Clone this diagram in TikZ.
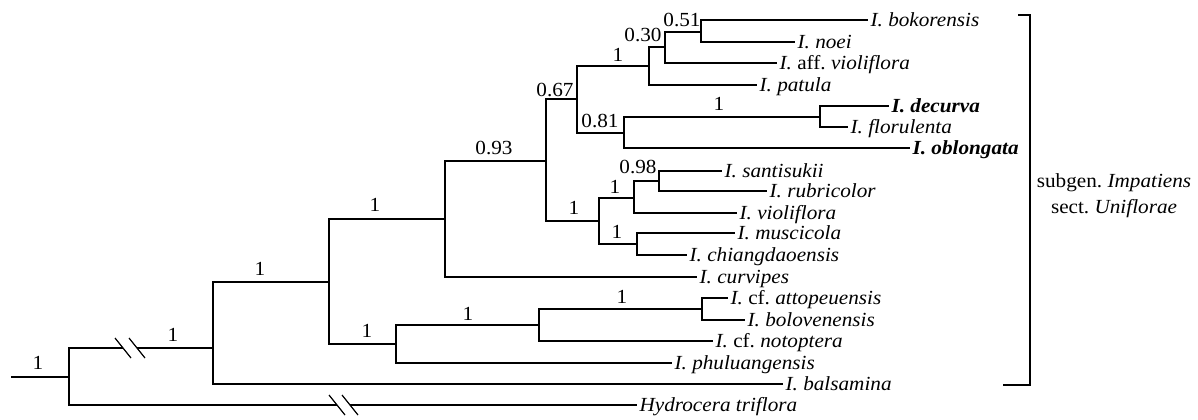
\documentclass[tikz,border=0pt]{standalone}
\usepackage{fontspec}
\setmainfont{Liberation Serif}[FakeStretch=1.06]
\newcommand{\lblsize}{\fontsize{15}{18}\selectfont}
\begin{document}
\frenchspacing
\begin{tikzpicture}[x=0.75pt, y=-0.75pt, line width=0.9pt,
  tip/.style={anchor=west, inner sep=1.5pt, text height=10pt, text depth=0pt, font=\lblsize\itshape},
  bs/.style={inner sep=0pt, font=\lblsize}]
  \useasboundingbox (0,0) rectangle (1198,419);
  % internal nodes, at the point where the incoming branch meets them
  \coordinate (r0) at (11,377);  \coordinate (nR) at (69,377);
  \coordinate (nA) at (213,348); \coordinate (nB) at (329,282);
  \coordinate (nC) at (445,219); \coordinate (nD) at (396,344);
  \coordinate (nE) at (546,161); \coordinate (nF) at (577,99);
  \coordinate (nG) at (599,221); \coordinate (nH) at (649,66);
  \coordinate (nI) at (624,133); \coordinate (nJ) at (665,47);
  \coordinate (nK) at (701,32);  \coordinate (nL) at (820,117);
  \coordinate (nM) at (634,198); \coordinate (nN) at (637,244);
  \coordinate (nO) at (659,181); \coordinate (nP) at (539,325);
  \coordinate (nQ) at (702,309);
  \coordinate (k1a) at (123,348); \coordinate (k1b) at (137,348);
  \coordinate (k2a) at (337,405); \coordinate (k2b) at (350,405);
  % tips
  \node[tip] (bok) at (868,20)  {I. bokorensis};
  \node[tip] (noe) at (795,42)  {I. noei};
  \node[tip] (afv) at (777,63)  {I. \textup{aff.} violiflora};
  \node[tip] (pat) at (757,85)  {I. patula};
  \node[tip, font=\lblsize\bfseries\itshape] (dec) at (889,106) {I. decurva};
  \node[tip] (flo) at (848,127) {I. florulenta};
  \node[tip, font=\lblsize\bfseries\itshape] (obl) at (910,148) {I. oblongata};
  \node[tip] (san) at (722,171) {I. santisukii};
  \node[tip] (rub) at (767,191) {I. rubricolor};
  \node[tip] (vio) at (737,213) {I. violiflora};
  \node[tip] (mus) at (735,233) {I. muscicola};
  \node[tip] (chi) at (687,255) {I. chiangdaoensis};
  \node[tip] (cur) at (697,277) {I. curvipes};
  \node[tip] (att) at (728,298) {I. \textup{cf.} attopeuensis};
  \node[tip] (bol) at (745,320) {I. bolovenensis};
  \node[tip] (not) at (713,341) {I. \textup{cf.} notoptera};
  \node[tip] (phu) at (672,363) {I. phuluangensis};
  \node[tip] (bal) at (783,384) {I. balsamina};
  \node[tip] (hyd) at (637,405) {Hydrocera triflora};
  % branches
  \draw (r0) -- (nR);
  \draw (nR) |- (k1a); \draw (k1b) -- (nA);
  \draw (nR) |- (k2a); \draw (k2b) -- (hyd.west);
  \foreach \k in {k1a,k1b,k2a,k2b} \draw ([shift={(-8,-10)}]\k) -- ++(16,20);
  \draw (nA) |- (nB);  \draw (nA) |- (bal.west);
  \draw (nB) |- (nC);  \draw (nB) |- (nD);
  \draw (nC) |- (nE);  \draw (nC) |- (cur.west);
  \draw (nE) |- (nF);  \draw (nE) |- (nG);
  \draw (nF) |- (nH);  \draw (nF) |- (nI);
  \draw (nH) |- (nJ);  \draw (nH) |- (pat.west);
  \draw (nJ) |- (nK);  \draw (nJ) |- (afv.west);
  \draw (nK) |- (bok.west); \draw (nK) |- (noe.west);
  \draw (nI) |- (nL);  \draw (nI) |- (obl.west);
  \draw (nL) |- (dec.west); \draw (nL) |- (flo.west);
  \draw (nG) |- (nM);  \draw (nG) |- (nN);
  \draw (nM) |- (nO);  \draw (nM) |- (vio.west);
  \draw (nO) |- (san.west); \draw (nO) |- (rub.west);
  \draw (nN) |- (mus.west); \draw (nN) |- (chi.west);
  \draw (nD) |- (nP);  \draw (nD) |- (phu.west);
  \draw (nP) |- (nQ);  \draw (nP) |- (not.west);
  \draw (nQ) |- (att.west); \draw (nQ) |- (bol.west);
  % support values
  \node[bs] (s0) at (38,363)  {1};
  \node[bs] (sA) at (173,335) {1};
  \node[bs] (sB) at (260,269) {1};
  \node[bs] (sC) at (375,205) {1};
  \node[bs] (sD) at (367,331) {1};
  \node[bs] (sE) at (494,148) {0.93};
  \node[bs] (sF) at (555,90)  {0.67};
  \node[bs] (sG) at (574,208) {1};
  \node[bs] (sH) at (618,55)  {1};
  \node[bs] (sI) at (600,121) {0.81};
  \node[bs] (sJ) at (643,35)  {0.30};
  \node[bs] (sK) at (682,20)  {0.51};
  \node[bs] (sL) at (719,104) {1};
  \node[bs] (sM) at (615,187) {1};
  \node[bs] (sN) at (617,232) {1};
  \node[bs] (sO) at (638,167) {0.98};
  \node[bs] (sP) at (468,314) {1};
  \node[bs] (sQ) at (622,297) {1};
  % group bracket
  \coordinate (gT) at (1018,15); \coordinate (gB) at (1003,385);
  \draw (gT) -- (1030,15) -- (1030,385) -- (gB);
  \node[bs] (g1) at (1114,183) {subgen. \textit{Impatiens}};
  \node[bs] (g2) at (1114,209) {sect. \textit{Uniflorae}};
\end{tikzpicture}
\end{document}
